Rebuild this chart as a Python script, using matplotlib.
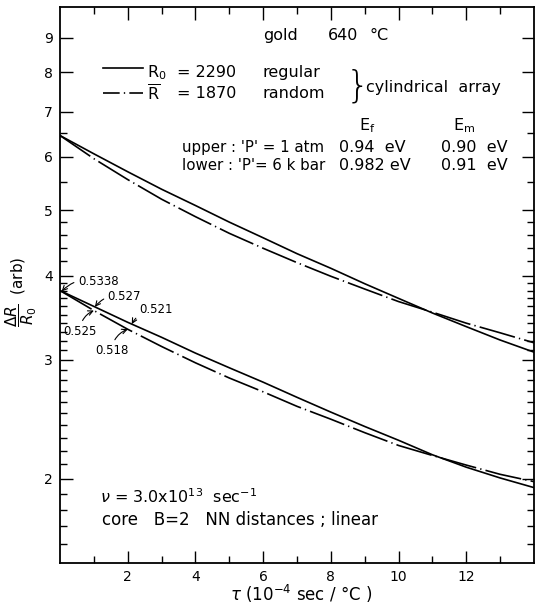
import numpy as np
import matplotlib
matplotlib.use("Agg")
import matplotlib.pyplot as plt
from matplotlib.lines import Line2D
from matplotlib.ticker import FixedLocator, NullFormatter

plt.rcParams['font.family'] = ['DejaVu Sans']
plt.rcParams['mathtext.fontset'] = 'dejavusans'

# tau in 10^-4 sec/C
tau = [0, 1, 2, 3, 4, 5, 6, 7, 8, 9, 10, 11, 12, 13, 14]

# upper pair ('P' = 1 atm)
upper_regular = [6.45, 6.06, 5.70, 5.37, 5.08, 4.80, 4.55, 4.31, 4.10, 3.89, 3.70, 3.52, 3.36, 3.21, 3.08]
upper_random = [6.45, 5.96, 5.55, 5.19, 4.89, 4.62, 4.39, 4.18, 3.99, 3.82, 3.66, 3.53, 3.40, 3.29, 3.18]

# lower pair ('P' = 6 kbar)
lower_regular = [3.80, 3.60, 3.41, 3.24, 3.07, 2.92, 2.78, 2.64, 2.51, 2.39, 2.28, 2.17, 2.08, 2.005, 1.94]
lower_random = [3.80, 3.55, 3.33, 3.14, 2.97, 2.82, 2.69, 2.56, 2.45, 2.34, 2.24, 2.165, 2.095, 2.03, 1.98]

y_major = [2, 3, 4, 5, 6, 7, 8, 9]
y_minor = [1.6, 1.7, 1.8, 1.9, 2.1, 2.2, 2.3, 2.4, 2.5, 2.6, 2.7, 2.8, 2.9,
           3.1, 3.2, 3.3, 3.4, 3.5, 3.6, 3.7, 3.8, 3.9, 4.2, 4.4, 4.6, 4.8, 5.5, 6.5]
x_major = [2, 4, 6, 8, 10, 12]
x_minor = [1, 3, 5, 7, 9, 11, 13]

# slope labels: (text, curve, tau where the arrow points)
slope_labels = [("0.5338", "lower_regular", 0.05),
                ("0.527", "lower_regular", 1.03),
                ("0.525", "lower_random", 1.0),
                ("0.521", "lower_regular", 2.12),
                ("0.518", "lower_random", 2.0)]
label_pos = [(0.53, 3.92), (1.41, 3.73), (0.09, 3.31), (2.35, 3.56), (1.03, 3.10)]
label_rad = [0.3, 0.3, -0.3, 0.3, -0.3]

curves = {"upper_regular": upper_regular, "upper_random": upper_random,
          "lower_regular": lower_regular, "lower_random": lower_random}

dashdot = (0, (22, 2.5, 0.8, 2.5))

fig = plt.figure(figsize=(5.35, 6.09), dpi=100)
ax = fig.add_axes([60/535, 1 - 563/609, 474/535, 556/609])

ax.plot(tau, upper_regular, 'k-', lw=1.2)
ax.plot(tau, upper_random, color='k', lw=1.2, linestyle=dashdot)
ax.plot(tau, lower_regular, 'k-', lw=1.2)
ax.plot(tau, lower_random, color='k', lw=1.2, linestyle=dashdot)

ax.set_yscale('log')
ax.set_xlim(0, 14)
ax.set_ylim(1.5, 10)

ax.yaxis.set_major_locator(FixedLocator(y_major))
ax.yaxis.set_minor_locator(FixedLocator(y_minor))
ax.set_yticklabels([str(v) for v in y_major])
ax.yaxis.set_minor_formatter(NullFormatter())
ax.set_xticks(x_major)
ax.set_xticks(x_minor, minor=True)
ax.set_xticklabels([str(v) for v in x_major])

ax.tick_params(which='both', direction='in', top=True, right=True, width=1.0, labelsize=10)
ax.tick_params(which='major', length=9, pad=5)
ax.tick_params(which='minor', length=5)
for s in ax.spines.values():
    s.set_linewidth(1.3)

ax.set_xlabel(r'$\tau$ (10$^{-4}$ sec / °C )', fontsize=12)
ax.xaxis.set_label_coords(0.51, -0.036)
ax.set_ylabel(r'$\dfrac{\Delta R}{R_0}$  (arb)', fontsize=11)
ax.yaxis.set_label_coords(-0.044, 0.487)

fs = 11.5
ax.text(6.0, 9.06, 'gold', fontsize=fs, va='center')
ax.text(7.9, 9.06, '640', fontsize=fs, va='center')
ax.text(9.15, 9.06, '°C', fontsize=fs, va='center')

# legend
ax.add_line(Line2D([0.0907, 0.175], [0.890, 0.890], transform=ax.transAxes, color='k', lw=1.2))
ax.add_line(Line2D([0.0907, 0.175], [0.845, 0.845], transform=ax.transAxes, color='k', lw=1.2,
                   linestyle=(0, (10, 2.5, 0.8, 2.5))))
ax.text(2.56, 8.0, r'R$_0$', fontsize=fs, va='center')
ax.text(3.47, 8.0, '= 2290', fontsize=fs, va='center')
ax.text(5.97, 8.0, 'regular', fontsize=fs, va='center')
ax.text(2.56, 7.44, r'$\overline{\mathrm{R}}$', fontsize=fs, va='center')
ax.text(3.47, 7.44, '= 1870', fontsize=fs, va='center')
ax.text(5.97, 7.44, 'random', fontsize=fs, va='center')
ax.text(8.45, 7.64, '}', fontsize=27, va='center', fontweight='light')
ax.text(9.03, 7.6, 'cylindrical  array', fontsize=fs, va='center')

ax.text(8.82, 6.68, r'E$_\mathrm{f}$', fontsize=fs, va='center')
ax.text(11.62, 6.68, r'E$_\mathrm{m}$', fontsize=fs, va='center')
ax.text(3.59, 6.20, "upper : 'P' = 1 atm", fontsize=10.8, va='center')
ax.text(8.24, 6.20, '0.94  eV', fontsize=fs, va='center')
ax.text(11.26, 6.20, '0.90  eV', fontsize=fs, va='center')
ax.text(3.59, 5.83, "lower : 'P'= 6 k bar", fontsize=10.8, va='center')
ax.text(8.24, 5.83, '0.982 eV', fontsize=fs, va='center')
ax.text(11.26, 5.83, '0.91  eV', fontsize=fs, va='center')

ax.text(1.18, 1.88, r'$\nu$ = 3.0x10$^{13}$  sec$^{-1}$', fontsize=fs, va='center')
ax.text(1.24, 1.74, 'core   B=2   NN distances ; linear', fontsize=12, va='center')

for (txt, cname, tx), (lx, ly), rad in zip(slope_labels, label_pos, label_rad):
    ty = np.interp(tx, tau, curves[cname])
    ax.annotate(txt, xy=(tx, ty), xytext=(lx, ly), fontsize=8.5, ha='left', va='center',
                arrowprops=dict(arrowstyle='->', lw=0.8, color='k', shrinkA=1, shrinkB=0,
                                connectionstyle='arc3,rad=%s' % rad))

fig.savefig('out.png', dpi=100)
